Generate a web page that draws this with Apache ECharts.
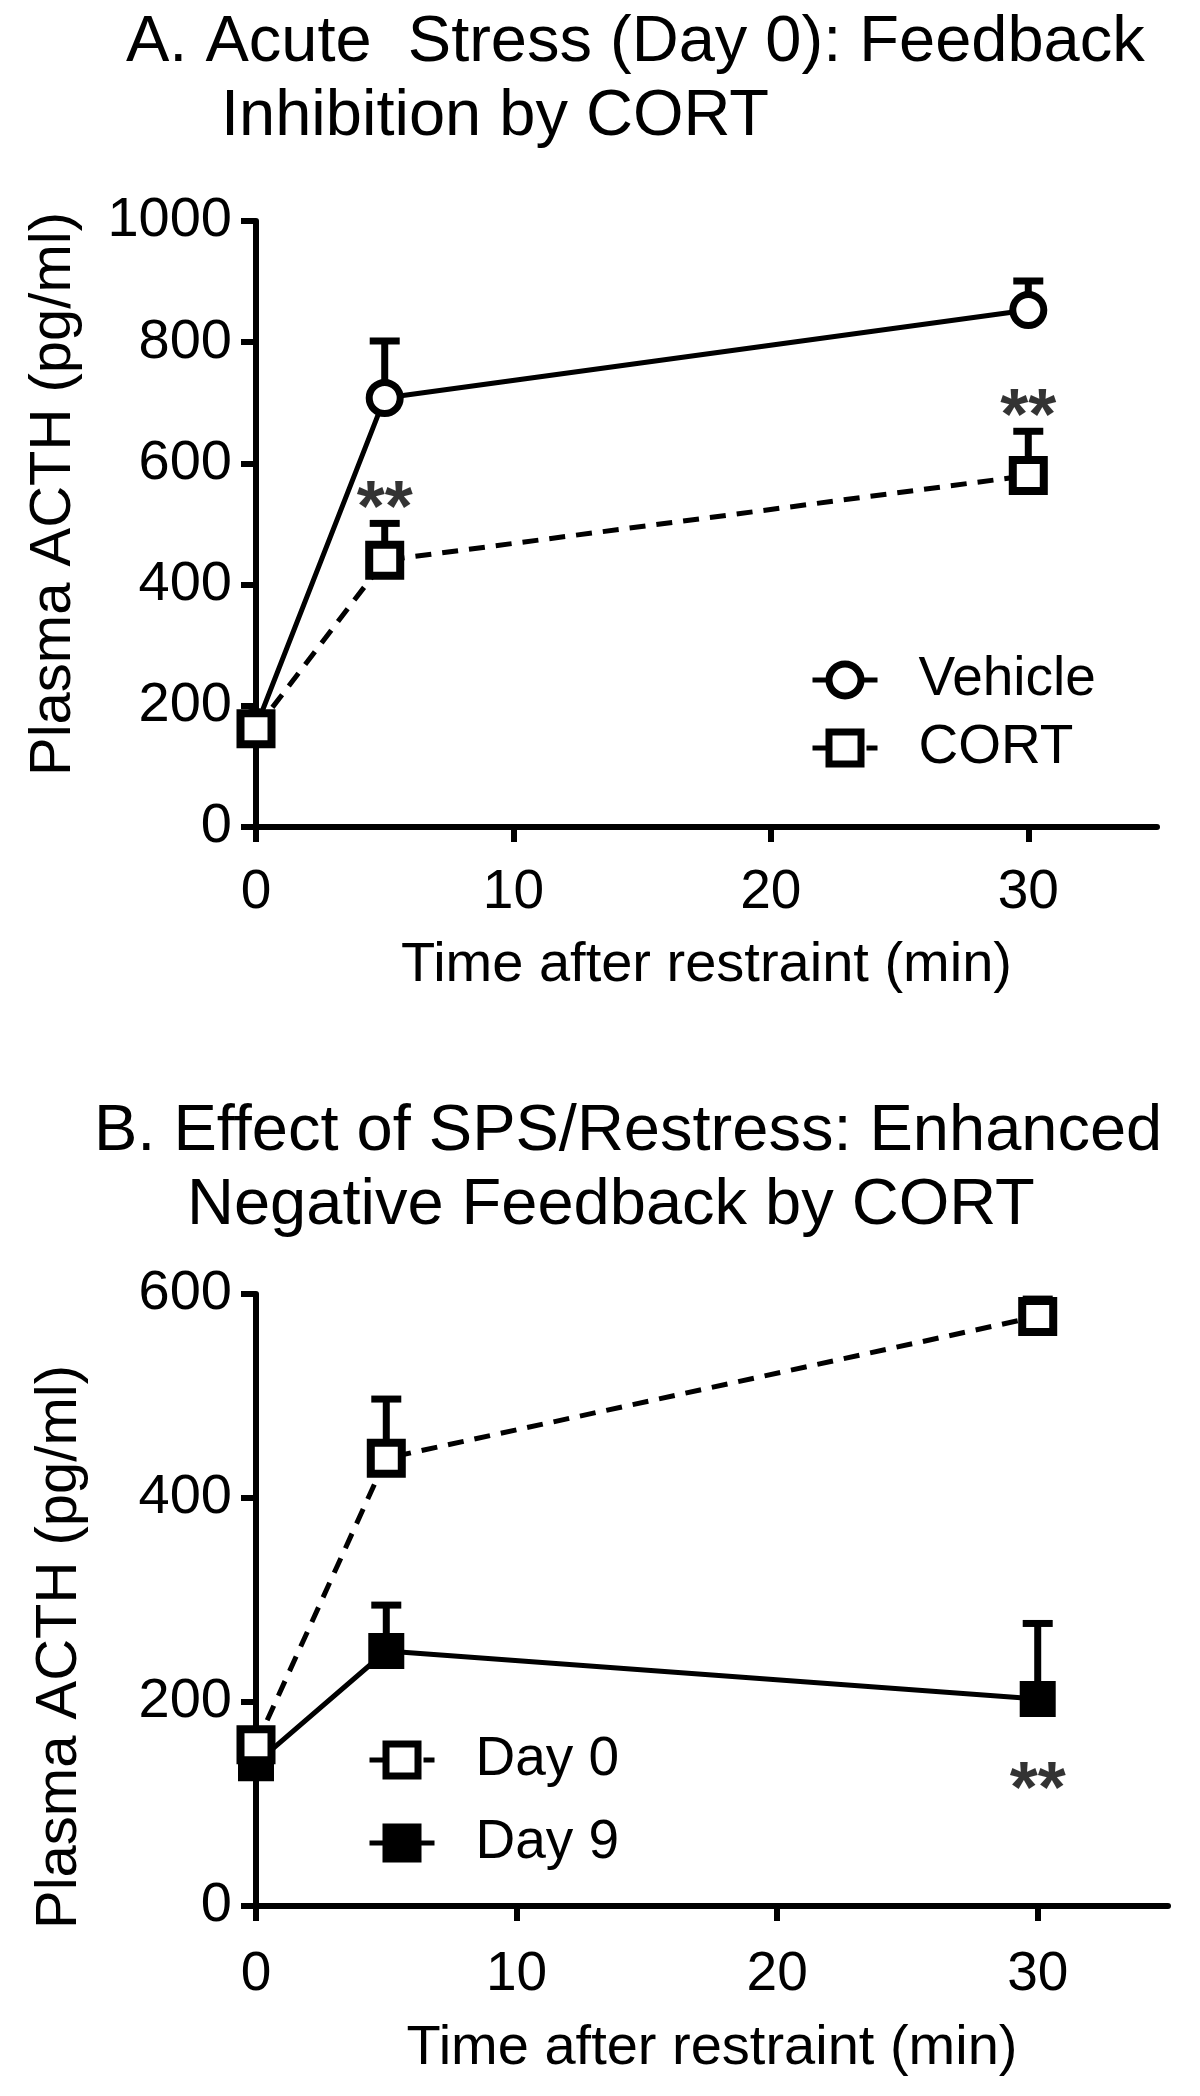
<!DOCTYPE html>
<html><head><meta charset="utf-8">
<script src="https://cdn.jsdelivr.net/npm/echarts@6/dist/echarts.min.js"></script>
<style>html,body{margin:0;padding:0;background:#fff}#c{width:1200px;height:2096px}</style>
</head><body><div id="c"></div>
<script>
// ---- data ----
const timePoints = [0, 5, 30];
const xTicks = [0, 10, 20, 30];
const yTicksA = [0, 200, 400, 600, 800, 1000];
const yTicksB = [0, 200, 400, 600];
const vehicleMean = [165, 708, 853];
const vehicleSEM = [12, 94, 48];
const cortMean = [162, 440, 580];
const cortSEM = [12, 61, 73];
const day0Mean = [158, 439, 578];
const day0SEM = [10, 58, 17];
const day9Mean = [140, 250, 203];
const day9SEM = [8, 45, 74];
const sigA = [[5, 522, '**'], [30, 673, '**']];
const sigB = [[30, 112, '**']];
const titleA = ['A. Acute  Stress (Day 0): Feedback', 'Inhibition by CORT'];
const titleB = ['B. Effect of SPS/Restress: Enhanced', 'Negative Feedback by CORT'];
const xName = 'Time after restraint (min)';
const yName = 'Plasma ACTH (pg/ml)';

// ---- style ----
const FF = '"Liberation Sans", Arial, Helvetica, sans-serif';
const BLACK = '#000';
const AXW = 6;

function pts(mean) { return timePoints.map((t, i) => [t, mean[i]]); }

function errSeries(idx, mean, sem) {
  return {
    type: 'custom', xAxisIndex: idx, yAxisIndex: idx, z: 1, silent: true,
    data: timePoints.map((t, i) => [t, mean[i], mean[i] + sem[i]]),
    encode: { x: 0, y: [1, 2] },
    renderItem(params, api) {
      const b = api.coord([api.value(0), api.value(1)]);
      const t = api.coord([api.value(0), api.value(2)]);
      const hw = 15;
      return { type: 'group', children: [
        { type: 'line', shape: { x1: b[0], y1: b[1], x2: t[0], y2: t[1] }, style: { stroke: BLACK, lineWidth: 7 } },
        { type: 'line', shape: { x1: t[0] - hw, y1: t[1], x2: t[0] + hw, y2: t[1] }, style: { stroke: BLACK, lineWidth: 7 } }
      ]};
    }
  };
}

function sigSeries(idx, data) {
  return {
    type: 'scatter', xAxisIndex: idx, yAxisIndex: idx, z: 5, silent: true,
    symbolSize: 1, itemStyle: { color: 'rgba(0,0,0,0)' },
    data: data,
    label: { show: true, position: 'inside', formatter: p => p.value[2],
      fontSize: 72, fontFamily: FF, color: BLACK, fontWeight: 'bold', textBorderWidth: 0 }
  };
}

function xAxis(idx) {
  return {
    type: 'value', gridIndex: idx, min: 0, max: 35, interval: 10,
    name: xName, nameLocation: 'middle', nameGap: idx === 0 ? 111 : 115,
    nameTextStyle: { fontSize: 56, fontFamily: FF, color: BLACK },
    axisLine: { show: true, onZero: false, lineStyle: { color: BLACK, width: AXW } },
    axisTick: { show: true, length: 15, inside: false, customValues: xTicks, lineStyle: { color: BLACK, width: AXW } },
    axisLabel: { fontSize: 55, fontFamily: FF, color: BLACK, margin: idx === 0 ? 38 : 41, customValues: xTicks,
      formatter: v => String(v) },
    splitLine: { show: false }
  };
}
function yAxis(idx, max, ticks) {
  return {
    type: 'value', gridIndex: idx, min: 0, max: max, interval: 200,
    axisLine: { show: true, onZero: false, lineStyle: { color: BLACK, width: AXW } },
    axisTick: { show: true, length: 15, customValues: ticks, lineStyle: { color: BLACK, width: AXW } },
    axisLabel: { fontSize: 56, fontFamily: FF, color: BLACK, margin: 24, customValues: ticks,
      formatter: v => String(v) },
    splitLine: { show: false }
  };
}

const legendText = { fontSize: 55, fontFamily: FF, color: BLACK, lineHeight: 56, padding: [0, 0, 0, 36] };
const legendCommon = {
  orient: 'vertical', itemWidth: 65, itemHeight: 40, textStyle: legendText, selectedMode: false,
  itemStyle: { borderWidth: 7 }, lineStyle: { width: 5 }
};

const option = {
  backgroundColor: '#fff',
  animation: false,
  title: [
    { text: titleA[0], left: 121, top: 6, textStyle: { fontSize: 65, fontWeight: 'normal', fontFamily: FF, color: BLACK } },
    { text: titleA[1], left: 216, top: 80, textStyle: { fontSize: 65, fontWeight: 'normal', fontFamily: FF, color: BLACK } },
    { text: titleB[0], left: 89, top: 1095, textStyle: { fontSize: 65, fontWeight: 'normal', fontFamily: FF, color: BLACK } },
    { text: titleB[1], left: 182, top: 1169, textStyle: { fontSize: 65, fontWeight: 'normal', fontFamily: FF, color: BLACK } }
  ],
  grid: [
    { left: 256, top: 221, width: 901, height: 606 },
    { left: 256, top: 1294, width: 912, height: 612 }
  ],
  xAxis: [xAxis(0), xAxis(1)],
  yAxis: [yAxis(0, 1000, yTicksA), yAxis(1, 600, yTicksB)],
  legend: [
    Object.assign({ data: ['Vehicle', 'CORT'], left: 805, top: 647, itemGap: 12 }, legendCommon),
    Object.assign({ data: ['Day 0', 'Day 9'], left: 362, top: 1727, itemGap: 27 }, legendCommon)
  ],
  graphic: [
    { type: 'text', x: 54, y: 494, rotation: Math.PI / 2,
      style: { text: yName, fontSize: 58, fontFamily: FF, fill: BLACK, align: 'center', verticalAlign: 'middle' } },
    { type: 'text', x: 60, y: 1647, rotation: Math.PI / 2,
      style: { text: yName, fontSize: 58, fontFamily: FF, fill: BLACK, align: 'center', verticalAlign: 'middle' } }
  ],
  series: [
    errSeries(0, vehicleMean, vehicleSEM),
    errSeries(0, cortMean, cortSEM),
    { name: 'Vehicle', type: 'line', xAxisIndex: 0, yAxisIndex: 0, z: 3, data: pts(vehicleMean),
      symbol: 'circle', symbolSize: 31, showAllSymbol: true,
      lineStyle: { color: BLACK, width: 5 },
      itemStyle: { color: '#fff', borderColor: BLACK, borderWidth: 7 } },
    { name: 'CORT', type: 'line', xAxisIndex: 0, yAxisIndex: 0, z: 4, data: pts(cortMean),
      symbol: 'rect', symbolSize: 31, showAllSymbol: true,
      lineStyle: { color: BLACK, width: 5, type: [16, 11] },
      itemStyle: { color: '#fff', borderColor: BLACK, borderWidth: 8 } },
    sigSeries(0, sigA),

    errSeries(1, day0Mean, day0SEM),
    errSeries(1, day9Mean, day9SEM),
    { name: 'Day 0', type: 'line', xAxisIndex: 1, yAxisIndex: 1, z: 4, data: pts(day0Mean),
      symbol: 'rect', symbolSize: 31, showAllSymbol: true,
      lineStyle: { color: BLACK, width: 5, type: [16, 11] },
      itemStyle: { color: '#fff', borderColor: BLACK, borderWidth: 8 } },
    { name: 'Day 9', type: 'line', xAxisIndex: 1, yAxisIndex: 1, z: 3, data: pts(day9Mean),
      symbol: 'rect', symbolSize: 36, showAllSymbol: true,
      lineStyle: { color: BLACK, width: 5 },
      itemStyle: { color: BLACK, borderColor: BLACK, borderWidth: 0 } },
    sigSeries(1, sigB)
  ]
};
const chart = echarts.init(document.getElementById('c'), null, { renderer: 'canvas' });
chart.setOption(option);
</script>
</body></html>
